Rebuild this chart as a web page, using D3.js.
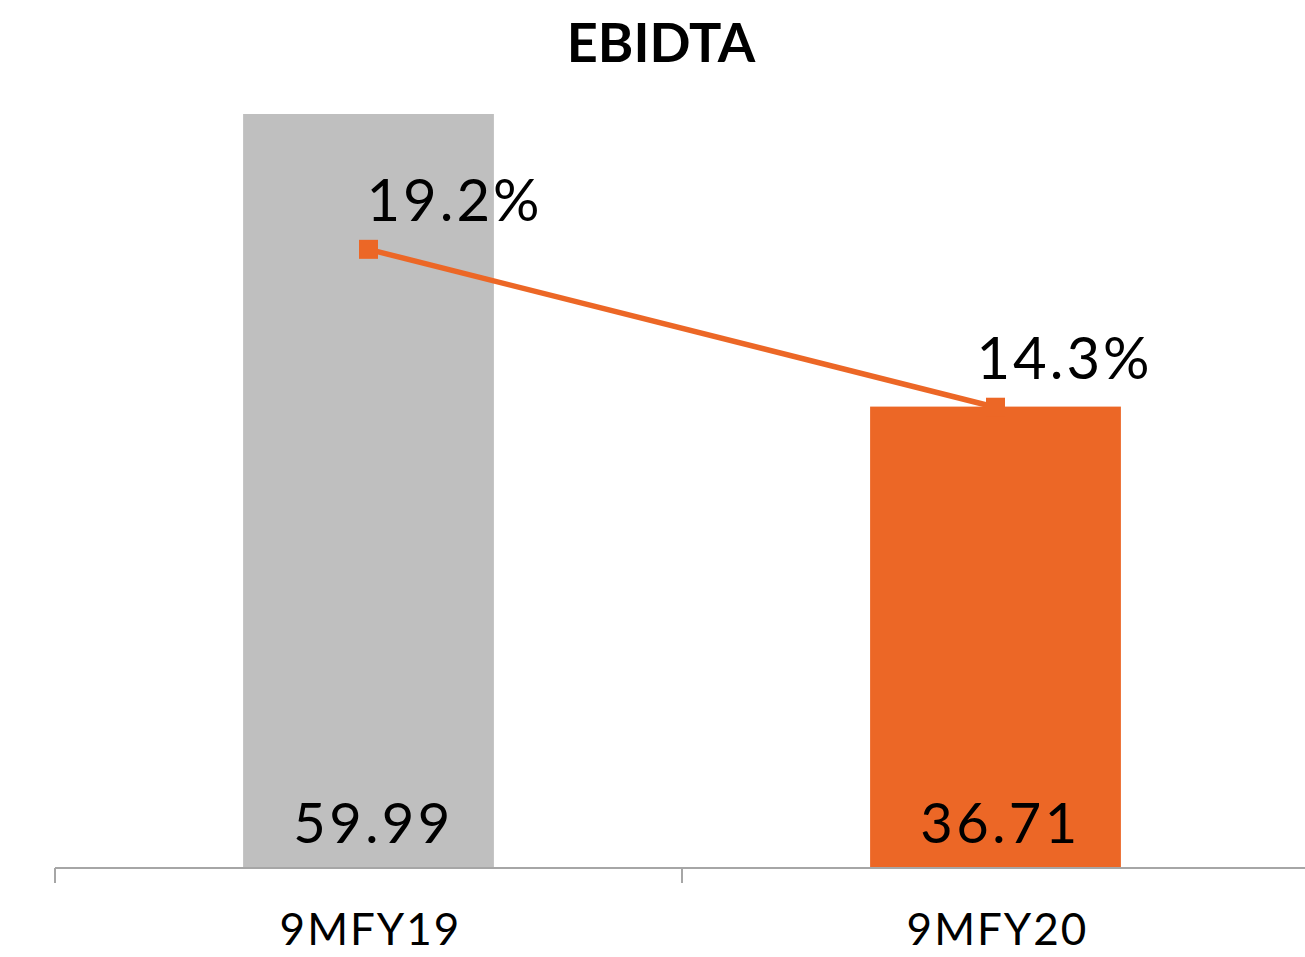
<!DOCTYPE html>
<html>
<head>
<meta charset="utf-8">
<script src="https://cdn.jsdelivr.net/npm/d3@7"></script>
<style>
  html, body { margin: 0; padding: 0; background: #fff; }
  svg { display: block; }
</style>
</head>
<body>
<div id="chart"></div>
<script>
// data
const categories = ["9MFY19", "9MFY20"];
const ebitdaValues = [59.99, 36.71];
const marginValues = [0.192, 0.143];
const barColors = ["#BFBFBF", "#EC6726"];
const title = "EBIDTA";

const svgWidth = 1305;
const svgHeight = 957;
const fontFamily = "Futura, 'Century Gothic', Lato, sans-serif";
const orange = "#EC6726";

const svg = d3.select("#chart")
  .append("svg")
  .attr("width", svgWidth)
  .attr("height", svgHeight);

// scales
const x = d3.scaleBand()
  .domain(categories)
  .range([55, 1309])
  .paddingInner(0.6)
  .paddingOuter(0.3);

const y = d3.scaleLinear().domain([0, 59.99]).range([868, 114]);
const y2 = d3.scaleLinear().domain([0, 0.234]).range([868, 114]);

const rows = categories.map((c, i) => ({
  cat: c, value: ebitdaValues[i], margin: marginValues[i], color: barColors[i]
}));

// title
svg.append("text")
  .attr("x", 661)
  .attr("y", 62)
  .attr("text-anchor", "middle")
  .attr("font-family", fontFamily)
  .attr("font-weight", "bold")
  .attr("font-size", 54)
  .attr("fill", "#000")
  .text(title);

// bars
svg.append("g")
  .selectAll("rect")
  .data(rows)
  .join("rect")
  .attr("x", d => x(d.cat))
  .attr("y", d => y(d.value))
  .attr("width", x.bandwidth())
  .attr("height", d => y(0) - y(d.value))
  .attr("fill", d => d.color);

// bar value labels (inside base)
svg.append("g")
  .selectAll("text")
  .data(rows)
  .join("text")
  .attr("x", d => x(d.cat) + x.bandwidth() / 2 + 5)
  .attr("y", y(0) - 25)
  .attr("text-anchor", "middle")
  .attr("font-family", fontFamily)
  .attr("font-size", 56)
  .attr("letter-spacing", 3.5)
  .attr("fill", "#000")
  .text(d => d.value.toFixed(2));

// x axis: line with ticks at band edges
const xStart = 55, xEnd = 1309;
const axis = svg.append("g").attr("stroke", "#A6A6A6").attr("stroke-width", 2);
axis.append("line")
  .attr("x1", xStart).attr("x2", xEnd)
  .attr("y1", y(0)).attr("y2", y(0));
axis.selectAll("line.tick")
  .data(d3.range(categories.length + 1))
  .join("line")
  .attr("class", "tick")
  .attr("x1", i => xStart + i * (xEnd - xStart) / categories.length)
  .attr("x2", i => xStart + i * (xEnd - xStart) / categories.length)
  .attr("y1", y(0)).attr("y2", y(0) + 15);

// category labels
svg.append("g")
  .selectAll("text")
  .data(rows)
  .join("text")
  .attr("x", d => x(d.cat) + x.bandwidth() / 2 + 2)
  .attr("y", 945)
  .attr("text-anchor", "middle")
  .attr("font-family", fontFamily)
  .attr("font-size", 44)
  .attr("letter-spacing", 2)
  .attr("fill", "#000")
  .text(d => d.cat);

// margin line
const cx = d => x(d.cat) + x.bandwidth() / 2;
const line = d3.line().x(cx).y(d => y2(d.margin));

svg.append("path")
  .datum(rows)
  .attr("d", line)
  .attr("fill", "none")
  .attr("stroke", orange)
  .attr("stroke-width", 5.5);

const markerSize = 19;
svg.append("g")
  .selectAll("rect")
  .data(rows)
  .join("rect")
  .attr("x", d => cx(d) - markerSize / 2)
  .attr("y", d => y2(d.margin) - markerSize / 2)
  .attr("width", markerSize)
  .attr("height", markerSize)
  .attr("fill", orange);

// margin labels, nudged like the original
const labelDx = [86, 69];
svg.append("g")
  .selectAll("text")
  .data(rows)
  .join("text")
  .attr("x", (d, i) => cx(d) + labelDx[i])
  .attr("y", d => y2(d.margin) - 28)
  .attr("text-anchor", "middle")
  .attr("font-family", fontFamily)
  .attr("font-size", 58)
  .attr("letter-spacing", 3)
  .attr("fill", "#000")
  .text(d => (d.margin * 100).toFixed(1) + "%");
</script>
</body>
</html>
